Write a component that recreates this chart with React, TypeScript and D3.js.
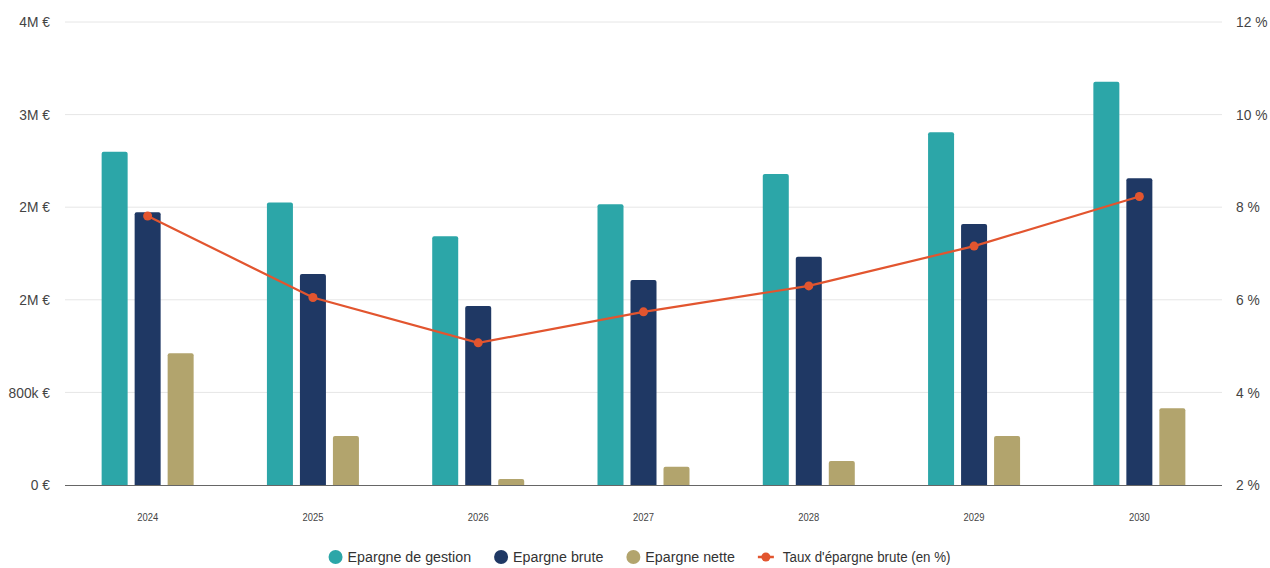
import React, { useEffect, useRef } from "react";
import * as d3 from "d3";

// Années et séries (montants en euros, taux en %)
const years = ["2024", "2025", "2026", "2027", "2028", "2029", "2030"];
const epargneGestion = [2880000, 2440000, 2150000, 2425000, 2687000, 3047000, 3484000];
const epargneBrute = [2356000, 1823000, 1546000, 1771000, 1972000, 2255000, 2650000];
const epargneNette = [1138000, 423000, 52000, 158000, 207000, 423000, 663000];
const tauxEpargneBrute = [7.81, 6.05, 5.07, 5.74, 6.30, 7.16, 8.23];

const leftTicks = [0, 800000, 1600000, 2400000, 3200000, 4000000];
const rightTicks = [2, 4, 6, 8, 10, 12];

const barSeries = [
  { name: "Epargne de gestion", values: epargneGestion, color: "#2ca6a8" },
  { name: "Epargne brute", values: epargneBrute, color: "#1f3864" },
  { name: "Epargne nette", values: epargneNette, color: "#b2a46d" },
];
const lineSeries = { name: "Taux d'épargne brute (en %)", values: tauxEpargneBrute, color: "#e2552f" };

const W = 1270;
const H = 568;
const FONT = "'Liberation Sans Narrow', 'Arial Narrow', 'Liberation Sans', Arial, sans-serif";

function fmtEuro(v: number): string {
  if (v === 0) return "0 €";
  if (v < 1e6) return `${v / 1000}k €`;
  return `${Math.round(v / 1e6)}M €`;
}

export default function App() {
  const ref = useRef<SVGSVGElement | null>(null);

  useEffect(() => {
    const svg = d3.select(ref.current);
    svg.selectAll("*").remove();

    const left = 65;
    const right = 1222;
    const top = 22;
    const bottom = 485;

    const x = d3.scaleBand<string>().domain(years).range([left, right]).padding(0);
    const yL = d3.scaleLinear().domain([0, 4000000]).range([bottom, top]);
    const yR = d3.scaleLinear().domain([2, 12]).range([bottom, top]);

    const barW = 26;
    const gap = 7;
    const groupW = barSeries.length * barW + (barSeries.length - 1) * gap;

    // Grille horizontale
    svg
      .append("g")
      .selectAll("line")
      .data(leftTicks.slice(1))
      .join("line")
      .attr("x1", left)
      .attr("x2", right)
      .attr("y1", (d) => yL(d))
      .attr("y2", (d) => yL(d))
      .attr("stroke", "#e6e6e6")
      .attr("stroke-width", 1);

    // Axe gauche (texte légèrement condensé)
    svg
      .append("g")
      .selectAll("text")
      .data(leftTicks)
      .join("text")
      .attr("transform", (d) => `translate(50,${yL(d)}) scale(0.92,1)`)
      .attr("dy", "0.35em")
      .attr("text-anchor", "end")
      .attr("font-family", FONT)
      .attr("font-size", 15)
      .attr("fill", "#444")
      .text((d) => fmtEuro(d));

    // Axe droit
    svg
      .append("g")
      .selectAll("text")
      .data(rightTicks)
      .join("text")
      .attr("transform", (d) => `translate(1236,${yR(d)}) scale(0.92,1)`)
      .attr("dy", "0.35em")
      .attr("text-anchor", "start")
      .attr("font-family", FONT)
      .attr("font-size", 15)
      .attr("fill", "#444")
      .text((d) => `${d} %`);

    // Barres
    barSeries.forEach((s, si) => {
      svg
        .append("g")
        .selectAll("path")
        .data(s.values.map((v, i) => ({ v, year: years[i] })))
        .join("path")
        .attr("fill", s.color)
        .attr("d", (d) => {
          const cx = (x(d.year) as number) + x.bandwidth() / 2;
          const x0 = cx - groupW / 2 + si * (barW + gap);
          const y0 = yL(d.v);
          const h = bottom - y0;
          const r = Math.min(2, h / 2);
          const p = d3.path();
          p.moveTo(x0, bottom);
          p.lineTo(x0, y0 + r);
          p.quadraticCurveTo(x0, y0, x0 + r, y0);
          p.lineTo(x0 + barW - r, y0);
          p.quadraticCurveTo(x0 + barW, y0, x0 + barW, y0 + r);
          p.lineTo(x0 + barW, bottom);
          p.closePath();
          return p.toString();
        });
    });

    // Ligne de base
    svg
      .append("line")
      .attr("x1", left)
      .attr("x2", right)
      .attr("y1", bottom + 0.5)
      .attr("y2", bottom + 0.5)
      .attr("stroke", "#666")
      .attr("stroke-width", 1.2);

    // Étiquettes des années
    svg
      .append("g")
      .selectAll("text")
      .data(years)
      .join("text")
      .attr("transform", (d) => `translate(${(x(d) as number) + x.bandwidth() / 2},521) scale(0.82,1)`)
      .attr("text-anchor", "middle")
      .attr("font-family", FONT)
      .attr("font-size", 11.5)
      .attr("fill", "#444")
      .text((d) => d);

    // Courbe du taux
    const pts = lineSeries.values.map((v, i) => ({
      x: (x(years[i]) as number) + x.bandwidth() / 2,
      y: yR(v),
    }));
    svg
      .append("path")
      .datum(pts)
      .attr("fill", "none")
      .attr("stroke", lineSeries.color)
      .attr("stroke-width", 2.2)
      .attr("d", d3.line<{ x: number; y: number }>().x((d) => d.x).y((d) => d.y));
    svg
      .append("g")
      .selectAll("circle")
      .data(pts)
      .join("circle")
      .attr("cx", (d) => d.x)
      .attr("cy", (d) => d.y)
      .attr("r", 4.5)
      .attr("fill", lineSeries.color);

    // Légende
    const legend = svg.append("g");
    const items = [
      ...barSeries.map((s) => ({ name: s.name, color: s.color, kind: "dot" })),
      { name: lineSeries.name, color: lineSeries.color, kind: "line" },
    ];
    const legY = 557;
    let cursor = 0;
    const itemGap = 23;
    items.forEach((it) => {
      const g = legend.append("g").attr("transform", `translate(${cursor},0)`);
      let textX = 19;
      let sx = 0.92;
      if (it.kind === "dot") {
        g.append("circle").attr("cx", 7).attr("cy", legY).attr("r", 7).attr("fill", it.color);
      } else {
        g.append("line")
          .attr("x1", 0)
          .attr("x2", 16)
          .attr("y1", legY)
          .attr("y2", legY)
          .attr("stroke", it.color)
          .attr("stroke-width", 2.5);
        g.append("circle").attr("cx", 8).attr("cy", legY).attr("r", 4.5).attr("fill", it.color);
        textX = 25;
        sx = 0.86;
      }
      const t = g
        .append("text")
        .attr("transform", `translate(${textX},${legY}) scale(${sx},1)`)
        .attr("dy", "0.35em")
        .attr("font-family", FONT)
        .attr("font-size", 15.5)
        .attr("fill", "#333")
        .text(it.name);
      const tw = (t.node() as SVGTextElement).getComputedTextLength() * sx;
      cursor += textX + tw + itemGap;
    });
    const totalW = cursor - itemGap;
    legend.attr("transform", `translate(${(left + right) / 2 - totalW / 2 - 4},0)`);
  }, []);

  return (
    <svg
      ref={ref}
      width={W}
      height={H}
      style={{ position: "absolute", left: 0, top: 0, background: "#fff" }}
    />
  );
}
